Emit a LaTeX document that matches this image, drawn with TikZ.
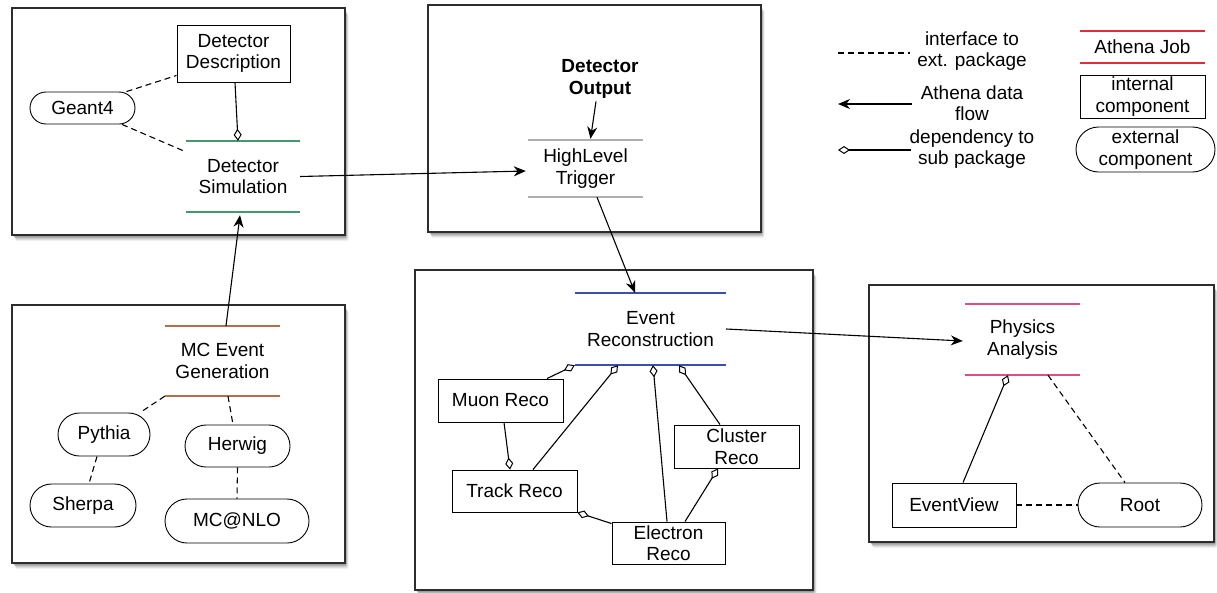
\documentclass[tikz,border=0pt]{standalone}
\usepackage{fontspec}
\setmainfont{Liberation Sans}
\usetikzlibrary{arrows.meta,shapes.misc}
\definecolor{simgreen}{RGB}{70,150,110}
\definecolor{genbrown}{RGB}{180,110,75}
\definecolor{recoblue}{RGB}{60,80,170}
\definecolor{anapink}{RGB}{220,80,125}
\definecolor{jobred}{RGB}{225,45,55}
\definecolor{trigray}{RGB}{175,175,175}
\definecolor{boxgray}{RGB}{45,45,45}
\tikzset{
  x=1pt,y=1pt,
  every node/.style={font=\fontsize{19}{21.5}\selectfont, align=center, inner sep=0pt},
  internal/.style={draw=black, line width=0.9pt, rectangle},
  external/.style={draw=black, line width=0.9pt, rounded rectangle},
  job/.style={rectangle},
  flow/.style={line width=1.1pt, -{Stealth[length=12pt,width=10pt]}},
  dep/.style={line width=1.1pt, -{Diamond[length=12pt,width=8pt,fill=white,line width=1pt]}},
  extif/.style={line width=1.1pt, dashed, dash pattern=on 6pt off 4pt},
}
\newcommand{\pkgbox}[4]{%
  \foreach \s/\o in {6/0.05,5/0.07,4/0.09,3/0.11,2/0.13}{
    \fill[black,opacity=\o,rounded corners=2pt] (#1+\s*0.6,#2-\s) rectangle (#3+\s*0.6,#4-\s);
  }
  \filldraw[fill=white,draw=boxgray,line width=1.4pt] (#1,#2) rectangle (#3,#4);
}
\newcommand{\joblines}[2]{%
  \draw[#2,line width=1.6pt] (#1.north west) -- (#1.north east);
  \draw[#2,line width=1.6pt] (#1.south west) -- (#1.south east);
}
\begin{document}
\begin{tikzpicture}
\useasboundingbox[fill=white] (0,0) rectangle (1217,-592);

% package boxes
\pkgbox{12}{-8}{345}{-235}
\pkgbox{428}{-5}{761}{-232}
\pkgbox{12}{-305}{345}{-563}
\pkgbox{415}{-270}{813}{-590}
\pkgbox{869}{-285}{1214}{-542}

% simulation package
\node[internal, minimum width=113pt, minimum height=57pt] (dd) at (233.5,-53.5) {Detector\\Description};
\node[external, minimum width=105pt, minimum height=32pt] (g4) at (82.5,-108) {Geant4};
\node[job, minimum width=114pt, minimum height=71pt] (ds) at (243,-176.5) {Detector\\Simulation};
\joblines{ds}{simgreen}

% trigger package
\node[font=\fontsize{19}{21.5}\selectfont\bfseries] (do) at (600,-79) {Detector\\Output};
\node[job, minimum width=115pt, minimum height=57pt] (hlt) at (585.5,-168.5) {HighLevel\\Trigger};
\joblines{hlt}{trigray}

% generation package
\node[job, minimum width=115pt, minimum height=70pt] (mcg) at (222.5,-361) {MC Event\\Generation};
\joblines{mcg}{genbrown}
\node[external, minimum width=92pt, minimum height=43pt] (py) at (104,-434.5) {Pythia};
\node[external, minimum width=105pt, minimum height=42pt] (hw) at (237.5,-446) {Herwig};
\node[external, minimum width=106pt, minimum height=43pt] (sh) at (83,-505.5) {Sherpa};
\node[external, minimum width=144pt, minimum height=44pt] (mn) at (237,-521) {MC@NLO};

% reconstruction package
\node[job, minimum width=151pt, minimum height=72pt] (er) at (650.5,-329) {Event\\Reconstruction};
\joblines{er}{recoblue}
\node[internal, minimum width=125pt, minimum height=43pt] (mu) at (500.5,-400.5) {Muon Reco};
\node[internal, minimum width=125pt, minimum height=42pt] (tr) at (514.5,-491) {Track Reco};
\node[internal, minimum width=125pt, minimum height=43pt] (cl) at (736.5,-446.5) {Cluster\\Reco};
\node[internal, minimum width=113pt, minimum height=42pt] (el) at (668.5,-543) {Electron\\Reco};

% analysis package
\node[job, minimum width=115pt, minimum height=71pt] (pa) at (1022.5,-339.5) {Physics\\Analysis};
\joblines{pa}{anapink}
\node[internal, minimum width=124pt, minimum height=44pt] (ev) at (954,-505) {EventView};
\node[external, minimum width=124pt, minimum height=44pt] (rt) at (1140,-505) {Root};

% legend
\node (l1) at (972,-51) {interface to\\ext. package};
\node (l2) at (972,-103) {Athena data\\flow};
\node (l3) at (972,-149) {dependency to\\sub package};
\coordinate (l1a) at (838,-53);
\coordinate (l1b) at (910,-53);
\coordinate (l2a) at (838,-104);
\coordinate (l2b) at (912,-104);
\coordinate (l3a) at (838,-150);
\coordinate (l3b) at (911,-150);
\draw[extif] (l1a) -- (l1b);
\draw[flow] (l2b) -- (l2a);
\draw[dep] (l3b) -- (l3a);
\node[job, minimum width=125pt, minimum height=32pt] (aj) at (1142.5,-47) {Athena Job};
\joblines{aj}{jobred}
\node[internal, minimum width=125pt, minimum height=43pt] (ic) at (1142.5,-96.5) {internal\\component};
\node[external, minimum width=139pt, minimum height=45pt] (ec) at (1145.5,-149.5) {external\\component};

% connectors: simulation
\draw[extif] ([xshift=44pt]g4.north) -- ([yshift=7pt]dd.south west);
\draw[extif] ([xshift=39.5pt]g4.south) -- ([yshift=-11pt]ds.north west);
\draw[dep] ([xshift=1.5pt]dd.south) -- ([xshift=-5pt]ds.north);
\draw[flow] (ds.east) -- ([yshift=-2.5pt,xshift=-2pt]hlt.west);
\draw[flow] ([xshift=-4pt,yshift=-3pt]do.south) -- ([xshift=5pt,yshift=1pt]hlt.north);
\draw[flow] ([xshift=11.5pt]hlt.south) -- ([xshift=-15.5pt]er.north);
\draw[flow] ([xshift=3.5pt]mcg.north) -- ([xshift=-3pt,yshift=-3pt]ds.south);

% connectors: generation
\draw[extif] (mcg.south west) -- ([xshift=36pt]py.north);
\draw[extif] ([xshift=5.5pt]mcg.south) -- ([xshift=-4.5pt]hw.north);
\draw[extif] ([xshift=-7pt]py.south) -- ([xshift=6pt]sh.north);
\draw[extif] (hw.south) -- (mn.north);

% connectors: reconstruction
\draw[dep] ([xshift=46.5pt]mu.north) -- (er.south west);
\draw[dep] ([xshift=18.5pt]tr.north) -- ([xshift=-32.5pt]er.south);
\draw[dep] ([xshift=-1.5pt]el.north) -- ([xshift=2.5pt]er.south);
\draw[dep] ([xshift=-16.5pt]cl.north) -- ([xshift=28.5pt]er.south);
\draw[dep] ([xshift=3.5pt]mu.south) -- ([xshift=-4.5pt]tr.north);
\draw[dep] ([yshift=-2pt]el.north west) -- (tr.south east);
\draw[dep] ([xshift=16.5pt]el.north) -- ([xshift=-18.5pt]cl.south);
\draw[flow] (er.east) -- ([yshift=-1.5pt,xshift=-2pt]pa.west);

% connectors: analysis
\draw[dep] ([xshift=9pt]ev.north) -- ([xshift=-14.5pt]pa.south);
\draw[extif] ([xshift=25.5pt]pa.south) -- ([xshift=-15pt]rt.north);
\draw[extif] (ev.east) -- (rt.west);
\end{tikzpicture}
\end{document}
